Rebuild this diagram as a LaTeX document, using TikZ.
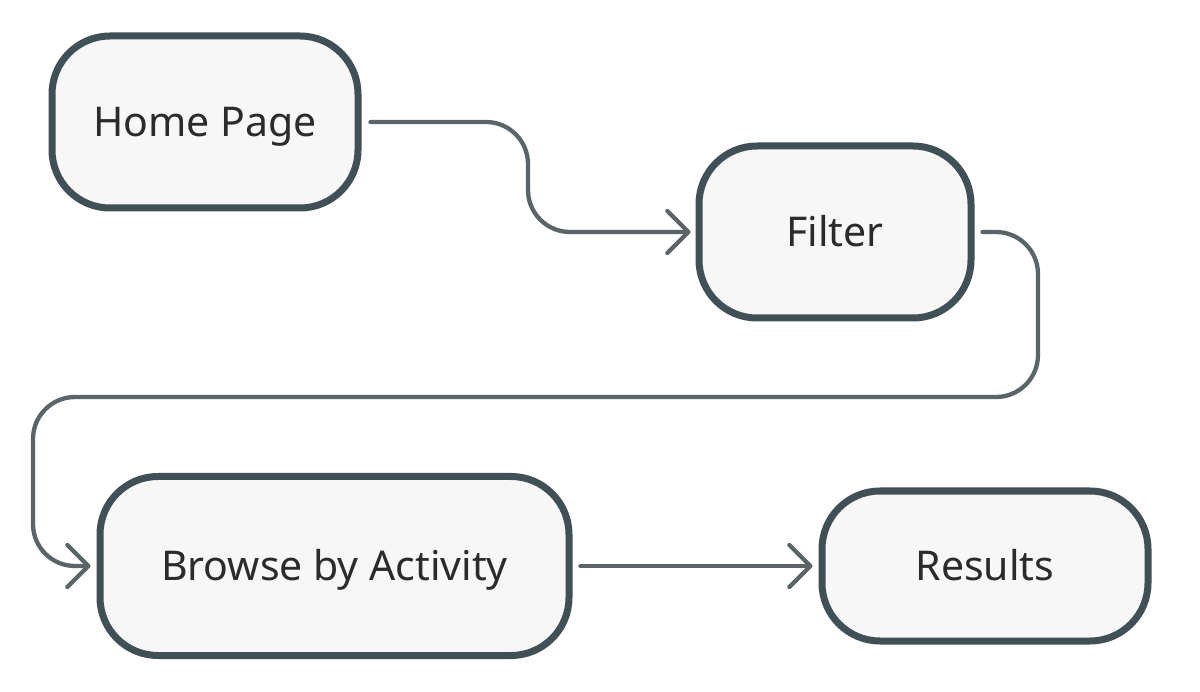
\documentclass[tikz,border=0pt]{standalone}
\usepackage{fontspec}
\setmainfont{Noto Sans}
\usetikzlibrary{arrows.meta}
\definecolor{boxline}{HTML}{414F57}
\definecolor{boxfill}{HTML}{F7F7F7}
\definecolor{connline}{HTML}{5B6568}
\definecolor{txt}{HTML}{2B2B2B}
\tikzset{
  box/.style={draw=boxline, fill=boxfill, line width=7pt, rounded corners=58pt,
    text=txt, font=\fontsize{41}{48}\selectfont, text height=29pt, text depth=0pt,
    inner sep=0pt},
  conn/.style={draw=connline, line width=4.3pt, line cap=round, rounded corners=42pt,
    -{Straight Barb[length=21pt,width=42pt,round]}}
}
\begin{document}
\begin{tikzpicture}[x=1pt,y=-1pt]
\useasboundingbox (0,0) rectangle (1200,692);
\node[box, minimum width=306pt, minimum height=172pt] (home) at (205,122) {Home Page};
\node[box, minimum width=272pt, minimum height=172pt] (filter) at (835,232) {Filter};
\node[box, minimum width=469pt, minimum height=179pt] (browse) at (334.5,566) {Browse by Activity};
\node[box, minimum width=326pt, minimum height=150pt] (results) at (985,566) {Results};
\coordinate (b1) at (528,122);
\coordinate (r) at (1038,397);
\coordinate (l) at (33,397);
\draw[conn] ([xshift=9pt]home.east) -| (b1 |- filter.west) -- ([xshift=-5pt]filter.west);
\draw[conn] ([xshift=8pt]filter.east) -| (r) -- (l) |- ([xshift=-6pt]browse.west);
\draw[conn] ([xshift=8pt]browse.east) -- ([xshift=-6pt]results.west);
\end{tikzpicture}
\end{document}
